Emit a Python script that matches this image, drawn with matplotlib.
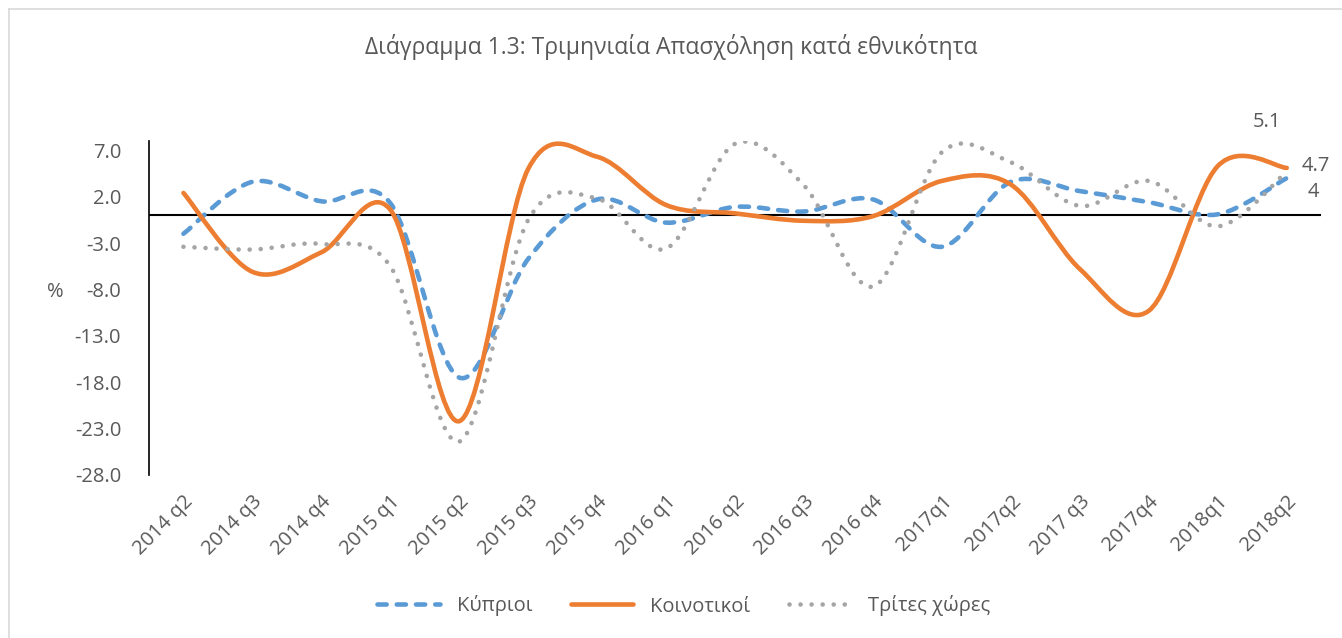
import numpy as np
import matplotlib.pyplot as plt
from matplotlib.path import Path
from matplotlib.patches import PathPatch
from matplotlib.lines import Line2D

plt.rcParams['font.family'] = ['Open Sans', 'DejaVu Sans']

# --------------------------------------------
# Data
# --------------------------------------------
quarters = ['2014 q2', '2014 q3', '2014 q4', '2015 q1', '2015 q2', '2015 q3',
            '2015 q4', '2016 q1', '2016 q2', '2016 q3', '2016 q4', '2017q1',
            '2017q2', '2017 q3', '2017q4', '2018q1', '2018q2']

cypriots = [-2.0, 3.6, 1.5, 1.3, -17.5, -4.7, 1.7, -0.8, 0.9, 0.4, 1.7, -3.4,
            3.6, 2.6, 1.4, 0.1, 4.0]
eu_citizens = [2.4, -6.1, -4.0, 0.6, -22.2, 5.0, 6.3, 1.1, 0.2, -0.6, -0.1, 3.7,
               3.3, -5.8, -10.3, 5.3, 5.1]
third_country = [-3.4, -3.7, -3.1, -5.5, -24.4, -0.5, 1.8, -3.6, 7.7, 3.2, -7.7, 6.8,
                 5.7, 1.0, 3.7, -1.2, 4.7]

series_names = ['Κύπριοι', 'Κοινοτικοί', 'Τρίτες χώρες']
yticks = [7.0, 2.0, -3.0, -8.0, -13.0, -18.0, -23.0, -28.0]

TEXT = '#595959'
BLUE, ORANGE, GREY = '#5B9BD5', '#ED7D31', '#A5A5A5'
FS = 14.5


# --------------------------------------------
# Excel-style smoothed line (cubic Bezier through the points)
# --------------------------------------------
def smooth_path(x, y):
    pts = np.column_stack([x, y]).astype(float)
    n = len(pts)
    verts = [pts[0]]
    codes = [Path.MOVETO]
    for i in range(n - 1):
        p0 = pts[max(i - 1, 0)]
        p1 = pts[i]
        p2 = pts[i + 1]
        p3 = pts[min(i + 2, n - 1)]
        c1 = p1 + (p2 - p0) / 6.0
        c2 = p2 - (p3 - p1) / 6.0
        verts += [c1, c2, p2]
        codes += [Path.CURVE4] * 3
    return Path(verts, codes)


fig = plt.figure(figsize=(13.42, 6.38), dpi=100)
ax = fig.add_axes([0.111, 0.2555, 0.8735, 0.5235])

x = np.arange(len(quarters))
styles = [
    (cypriots, BLUE, (0, (2.0, 2.2))),
    (eu_citizens, ORANGE, '-'),
    (third_country, GREY, (0, (0.01, 2.4))),
]
handles = []
for vals, col, ls in styles:
    patch = PathPatch(smooth_path(x, vals), facecolor='none', edgecolor=col,
                      linewidth=3.3, linestyle=ls, capstyle='round',
                      joinstyle='round', zorder=3)
    ax.add_patch(patch)
    handles.append(Line2D([], [], color=col, linewidth=3.3, linestyle=ls,
                          dash_capstyle='round', solid_capstyle='round'))

ax.axhline(0, color='black', linewidth=1.5, zorder=2)

ax.set_xlim(-0.5, len(quarters) - 0.5)
ax.set_ylim(-28, 8)
ax.set_yticks(yticks)
ax.set_yticklabels([f'{v:.1f}' for v in yticks], color=TEXT, fontsize=FS)
ax.set_xticks(x)
ax.set_xticklabels(quarters, rotation=45, ha='right', va='top',
                   rotation_mode='anchor', color=TEXT, fontsize=FS)
ax.tick_params(axis='both', length=0)
ax.tick_params(axis='y', pad=20)
ax.tick_params(axis='x', pad=12)
for side in ['top', 'right', 'bottom']:
    ax.spines[side].set_visible(False)
ax.spines['left'].set_color('black')
ax.spines['left'].set_linewidth(1.2)

ax.set_ylabel('%', rotation=0, color=TEXT, fontsize=FS, va='center', ha='center')
ax.yaxis.set_label_coords(-0.0795, 0.548)

# data labels on the last quarter
last = len(quarters) - 1
ax.annotate(f'{eu_citizens[-1]:.1f}', (last, eu_citizens[-1]), xytext=(-14, 33),
            textcoords='offset points', color=TEXT, fontsize=FS, ha='center', va='center')
ax.annotate(f'{third_country[-1]:.1f}', (last, third_country[-1]), xytext=(21, 4),
            textcoords='offset points', color=TEXT, fontsize=FS, ha='center', va='center')
ax.annotate(f'{cypriots[-1]:g}', (last, cypriots[-1]), xytext=(19, -10),
            textcoords='offset points', color=TEXT, fontsize=FS, ha='center', va='center')

fig.text(0.5, 1 - 47 / 638, 'Διάγραμμα 1.3: Τριμηνιαία Απασχόληση κατά εθνικότητα',
         ha='center', va='center', color=TEXT, fontsize=16.5)

fig.legend(handles, series_names, loc='center', bbox_to_anchor=(684 / 1342, 1 - 606 / 638),
           ncol=3, frameon=False, fontsize=FS, labelcolor=TEXT,
           handlelength=3.1, columnspacing=1.9, handletextpad=0.85)

# chart border (top/left visible in the reference)
fig.add_artist(Line2D([9 / 1342, 9 / 1342], [0, 1 - 9 / 638], color='#D9D9D9', linewidth=1.2))
fig.add_artist(Line2D([9 / 1342, 1], [1 - 9 / 638, 1 - 9 / 638], color='#D9D9D9', linewidth=1.2))

fig.savefig('out.png', dpi=100)
